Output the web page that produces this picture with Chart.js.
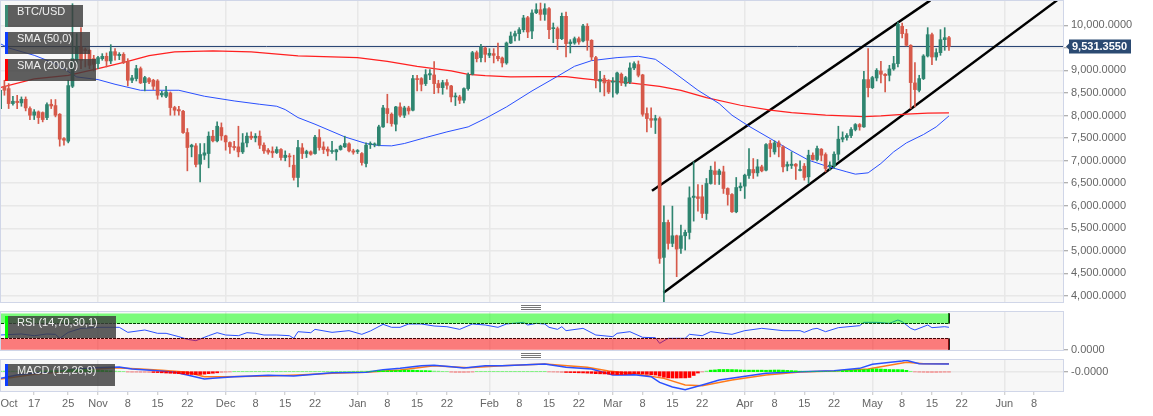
<!DOCTYPE html>
<html>
<head>
<meta charset="utf-8">
<title>BTC/USD</title>
<script src="https://cdn.jsdelivr.net/npm/chart.js@4"></script>
<style>
    html, body { margin: 0; padding: 0; background: #fff; }
    #wrap { position: relative; width: 1153px; height: 416px; overflow: hidden; }
    #wrap canvas { position: absolute; left: 0; top: 0; }
    .tag {
        position: absolute; left: 5px; height: 22px; line-height: 22px;
        padding-left: 9px; box-sizing: border-box; z-index: 5;
        background: rgba(60, 60, 60, 0.82); color: #f0f0f0;
        font: 11px "Liberation Sans", Arial, sans-serif; border-left: 3px solid;
    }
    .splitter {
        position: absolute; left: 521px; width: 20px; height: 5px; z-index: 5;
        background: repeating-linear-gradient(#777 0 1px, transparent 1px 2px);
    }
</style>
</head>
<body>
<div id="wrap">
    <canvas id="priceChart" width="1153" height="416"></canvas>
    <canvas id="rsiChart" width="1153" height="416"></canvas>
    <canvas id="macdChart" width="1153" height="416"></canvas>
    <div class="tag" style="top:5px;width:78px;border-color:#3a8a74">BTC/USD</div>
    <div class="tag" style="top:32px;width:85px;border-color:#0b3cff">SMA (50,0)</div>
    <div class="tag" style="top:59px;width:91px;border-color:#ff0000">SMA (200,0)</div>
    <div class="tag" style="top:316px;width:111px;border-color:#00ff00">RSI (14,70,30,1)</div>
    <div class="tag" style="top:364px;width:110px;border-color:#0b3cff">MACD (12,26,9)</div>
    <div class="splitter" style="top:305px"></div>
    <div class="splitter" style="top:353px"></div>
</div>
<script>
// ==========================================
// DATA
// ==========================================
// Days are counted from 1 Nov 2019, one candle per day
const firstDay = -23;

const opens = [
    8155,8649,8597,8265,8317,8280,8361,8155,8007,8081,
    8066,7955,8250,8221,8029,7490,7431,8649,9239,9520,
    9461,9446,9261,9151,9261,9313,9210,9416,9328,9357,
    9188,8782,8819,9040,8730,8819,8782,8767,8457,8428,
    8501,8177,8132,8095,7623,7306,7328,6922,7121,7158,
    7542,7439,7734,7549,7402,7306,7306,7195,7394,7542,
    7505,7542,7343,7232,7210,7180,7247,7070,7099,6900,
    6627,7284,7158,7195,7158,7512,7306,7254,7202,7195,
    7247,7306,7372,7217,7202,7158,6937,7357,7350,7343,
    7749,8155,8029,7808,8191,8007,8169,8118,8819,8819,
    8708,8900,8900,8708,8619,8730,8656,8413,8413,8339,
    8597,8915,9394,9284,9498,9335,9372,9313,9276,9166,
    9608,9763,9815,9904,10169,9874,10280,10346,10243,10368,
    9926,9926,9704,10199,9594,9608,9704,9653,9977,9667,
    9284,8760,8819,8745,8738,8501,8915,8708,8745,9055,
    9129,8900,8044,7933,7896,7933,4856,5630,5166,5335,
    5055,5335,5409,6184,6199,6199,5830,6494,6774,6693,
    6752,6383,6250,5867,6398,6435,6671,6804,6730,6863,
    6789,7380,7195,7394,7306,6878,6893,6922,6782,6878,
    6642,7121,7025,7254,7136,6878,6885,7143,7476,7512,
    7557,7690,7800,7749,8797,8619,8833,8988,8915,8893,
    9033,9151,9977,9815,9557,8723,8560,8819,9320,9793,
    9298,9394,9682,9726
];
const closes = [
    8560,8560,8265,8317,8287,8361,8169,8007,8081,7955,
    7911,8243,8213,8007,7476,7453,8664,9261,9535,9225,
    9439,9114,9136,9284,9313,9210,9416,9335,9357,9188,
    8782,8833,9040,8723,8841,8745,8649,8450,8494,8523,
    8177,8118,8103,7623,7291,7343,6915,7136,7173,7542,
    7439,7763,7549,7416,7306,7291,7195,7394,7542,7505,
    7542,7343,7217,7188,7173,7247,7070,7121,7084,6627,
    7291,7158,7202,7143,7520,7291,7247,7210,7217,7239,
    7321,7380,7217,7188,7217,6959,7343,7380,7372,7749,
    8169,8044,7822,8191,8007,8169,8103,8819,8797,8693,
    8907,8929,8708,8619,8730,8671,8413,8428,8339,8597,
    8907,9394,9261,9520,9357,9380,9335,9261,9166,9608,
    9763,9815,9904,10162,9852,10273,10346,10243,10368,9904,
    9940,9704,10199,9594,9630,9704,9630,9985,9667,9298,
    8782,8804,8723,8523,8760,8944,8723,8841,9055,9151,
    8893,8029,7933,7896,7933,4833,5630,5166,5335,5040,
    5335,5409,6177,6214,6162,5830,6494,6789,6693,6774,
    6383,6250,5867,6405,6435,6678,6804,6730,6863,6774,
    7357,7269,7394,7306,6863,6915,6922,6878,6804,6627,
    7121,7025,7269,7121,6826,6900,7143,7476,7512,7557,
    7690,7800,7749,8797,8619,8841,9003,8915,8885,9033,
    9151,10022,9815,9557,8730,8575,8819,9320,9793,9298,
    9394,9682,9726,9531.355
];
const highs = [
    8597,8782,8708,8428,8450,8413,8413,8191,8132,8103,
    8081,8280,8354,8354,8044,7512,8782,10479,9815,9948,
    9498,9461,9335,9313,9372,9387,9571,9483,9394,9394,
    9261,8893,9114,9077,8870,8841,8804,8797,8538,8649,
    8523,8206,8206,8118,7712,7365,7380,7380,7380,7638,
    7675,7859,7837,7564,7416,7431,7763,7601,7616,7638,
    7601,7660,7394,7269,7306,7306,7269,7217,7158,7121,
    7453,7380,7232,7217,7564,7690,7416,7306,7431,7254,
    7343,7542,7394,7254,7247,7180,7394,7416,7394,7786,
    8228,8472,8059,8206,8280,8206,8206,8893,8893,8841,
    9018,9018,9195,8782,8782,8797,8671,8501,8450,8612,
    8944,9424,9431,9579,9520,9483,9483,9608,9298,9630,
    9852,9874,9948,10221,10199,10346,10479,10494,10479,10391,
    10051,9963,10273,10295,9682,9741,9741,10022,10036,9682,
    9313,8981,8893,8797,8841,8966,8944,8870,9166,9188,
    9210,8915,8169,8169,8007,7970,6000,5682,5992,5350,
    5571,5461,6420,6974,6472,6457,6605,6878,6974,6811,
    6878,6398,6273,6627,6509,6701,7269,7047,7025,6900,
    7380,7453,7439,7439,7328,6974,7195,6937,6996,6937,
    7232,7173,7321,7269,7173,6974,7195,7763,7638,7601,
    7734,7822,7822,8981,9483,8870,9040,9202,8929,9114,
    9313,10073,10051,9911,9571,9173,8893,9350,9948,9830,
    9483,9904,9948,9756
];
const lows = [
    8132,8450,8155,8228,8155,8206,8103,7911,7911,7822,
    7859,7911,8155,7970,7321,7343,7394,8619,9099,9040,
    9077,9040,8988,9040,9225,9077,9151,9225,9239,9151,
    8656,8730,8767,8708,8546,8708,8575,8361,8413,8398,
    8007,8007,8007,7601,6774,7084,6863,6531,7025,6841,
    7416,7416,7453,7232,7158,7232,7084,7158,7306,7468,
    7416,7269,7158,7143,7070,7158,7011,6996,6863,6568,
    6420,7047,7070,7121,7143,7232,7158,7106,7158,7011,
    7232,7291,7195,7143,7158,6900,6863,7269,7306,7328,
    7734,7837,7763,7660,7970,7955,8029,8103,8546,8546,
    8664,8797,8487,8501,8472,8583,8302,8221,8265,8280,
    8560,8900,9188,9188,9188,9284,9166,9210,9077,9136,
    9594,9653,9667,9852,9726,9704,10258,10110,10110,9704,
    9616,9461,9682,9298,9387,9579,9579,9630,9446,9225,
    8612,8523,8435,8487,8405,8472,8664,8649,8708,9018,
    8856,7985,7638,7734,7601,4723,3874,5040,5092,4428,
    4944,5018,5262,5660,5881,5734,5697,6479,6472,6472,
    6273,6014,5852,5845,6332,6162,6605,6605,6656,6752,
    6774,7084,7143,7084,6752,6774,6826,6583,6774,6568,
    6494,7011,6996,6996,6752,6789,6826,7011,7416,7453,
    7512,7660,7675,7734,8413,8597,8767,8723,8524,8767,
    9003,9077,9719,9542,8155,8191,8524,8797,9298,9129,
    9225,9335,9446,9446
];

const lastPrice = 9531.355;

const sma50Days = [-23,-21,-15,-10,-5,0,4,10,14,19,25,32,38,42,44,47,51,58,63,66,69,72,77,82,87,91,96,102,108,112,116,122,127,131,135,141,146,149,153,158,163,167,171,176,178,181,184,187,190,194,197,200];
const sma50Values = [9594,9498,9335,9151,8856,8797,8693,8560,8560,8560,8428,8324,8250,8206,8132,7955,7808,7527,7380,7335,7328,7380,7512,7638,7749,7933,8191,8546,8870,9092,9217,9284,9313,9247,8981,8560,8265,8007,7763,7490,7217,7011,6885,6752,6701,6730,6937,7195,7394,7579,7749,7992];

const sma200Days = [-23,-15,-7,0,7,12,18,27,36,47,61,68,75,79,83,87,91,97,104,110,114,118,122,128,132,137,143,151,158,163,171,180,184,190,195,200];
const sma200Values = [8619,8811,8893,9040,9202,9328,9409,9431,9409,9321,9284,9202,9092,9040,8988,8915,8885,8856,8863,8863,8819,8782,8760,8693,8649,8560,8398,8228,8118,8066,8007,7977,7992,8029,8051,8059];

const channelUpperDays = [130.2, 195.6];
const channelUpperPrices = [6332, 10553];
const channelLowerDays = [132.9, 225.4];
const channelLowerPrices = [4073, 10553];

const rsiDays = [-23,-18,-15,-12,-10,-9,-7,-4,0,5,7,11,14,16,19,21,23,26,28,30,33,35,37,39,42,45,46,47,50,51,55,59,62,64,67,69,71,73,76,79,82,85,88,91,94,96,100,101,103,105,106,108,109,110,114,117,121,122,125,128,131,132,134,138,139,142,144,149,152,156,161,165,166,168,169,171,174,179,180,183,186,188,189,191,192,195,196,199,200];
const rsiValues = [39.3,42,37.5,42,41,30.4,46.4,57,59.8,59.8,46.4,52.7,43.8,43.8,34.9,27.8,24.2,37.5,45.5,39.3,37.5,45.5,43.8,39.3,39.3,37.5,30.4,48.2,45.5,54.4,46.4,50.9,41.1,50,67.8,59.8,59.8,68.7,68.7,63.3,61.5,54.4,68.7,66,59.8,68.7,73.1,66,70.4,68.7,59.8,54.4,61.5,50.9,57.1,39.3,34.9,43.8,48.2,33.1,32.2,17.1,30.4,30.4,41.1,37.5,48.2,41.1,50.9,57.1,50.9,50.9,46.4,55.3,57.1,48.2,58.9,64.2,73.1,73.1,70.4,79.3,74.9,57.1,52.7,66,58.9,61.5,59.8];
const rsiTicks = [0];
const rsiUpper = 70;
const rsiLower = 30;
const rsiBandTop = 97;

const macdDays = [-23,-19,-15,-11,-7,-4,0,5,8,14,18,21,25,27,32,40,46,51,55,63,67,71,76,79,83,86,91,95,105,110,116,121,126,130,132,135,138,142,146,157,165,173,179,182,189,190,193,200];
const macdValues = [-300,-150,-75,0,75,135,180,210,120,45,-30,-150,-330,-300,-225,-165,-195,-120,-45,-30,90,150,270,285,225,165,270,270,345,195,120,-150,-135,-225,-480,-690,-810,-600,-375,-75,0,45,150,330,480,510,360,345];
const signalDays = [-23,-19,-15,-11,-7,0,4,10,15,21,25,30,40,47,55,63,71,79,87,95,105,115,120,127,133,138,142,149,157,165,173,181,190,194,200];
const signalValues = [-330,-225,-120,-45,30,120,180,120,60,-30,-225,-225,-195,-150,-75,-30,75,270,180,270,345,195,30,-120,-300,-600,-630,-375,-150,-15,30,120,420,360,360];
const histValues = [
    30,30,30,30,30,30,30,30,30,30,
    40,40,40,45,50,60,
    90,100,110,110,110,100,90,
    70,60,50,40,30,20,10,
    -15,-20,-20,-25,-25,-30,-35,-40,-50,-60,-70,-80,-90,-100,-120,-125,-130,-125,-110,-90,-70,-50,-30,-20,-10,
    15,15,15,15,15,15,15,15,15,15,15,15,15,15,15,15,15,15,15,15,15,15,15,15,15,15,15,15,
    20,20,25,25,30,30,35,40,40,45,50,
    60,70,70,70,60,50,50,40,30,25,
    15,10,
    -20,-30,-30,-30,-25,-15,
    15,15,15,15,15,15,15,15,15,15,15,15,15,15,15,15,15,
    -10,-15,-20,-30,-35,-40,-45,-50,-55,-65,-75,-90,-95,-100,-110,
    -120,-130,-125,-120,-105,-90,-90,-100,-120,-135,-150,
    -200,-250,-280,-285,-285,-280,-280,-260,-170,-60,-10,30,
    70,80,100,100,100,95,90,80,70,70,70,70,70,65,70,75,75,70,60,50,40,
    30,20,15,15,15,15,15,15,20,
    30,40,50,60,70,80,90,100,
    120,130,120,110,100,95,95,90,60,
    20,-10,-20,-25,-30,-30,-30,-25,-20,-20
];
const macdTicks = [-0.00001];

const priceTicks = [4000,4500,5000,5500,6000,6500,7000,7500,8000,8500,9000,9500,10000];
const xTickDays = [-20.9,-15,-7,0,7,14,21,30,37,44,51,61,68,75,82,92,99,106,113,121,128,135,142,152,159,166,173,182,189,196,203,213,220];
const xTickLabels = ['Oct','17','25','Nov','8','15','22','Dec','8','15','22','Jan','8','15','22','Feb','8','15','22','Mar','8','15','22','Apr','8','15','22','May','8','15','22','Jun','8'];

// ==========================================
// SHARED SETTINGS
// ==========================================
const COLORS = {
    up: '#2f8570',
    down: '#d6594a',
    grid: '#e8e8e8',
    frame: '#d0d6e8',
    panel: '#f7f7f7',
    priceLine: '#1f3d6e',
    priceTag: '#2b4a72',
    text: '#666666'
};

Chart.defaults.font.family = '"Liberation Sans", Arial, sans-serif';
Chart.defaults.font.size = 11;
Chart.defaults.color = COLORS.text;

const xMin = -22.8;
const xMax = 226.8;
const days = opens.map((_, i) => firstDay + i);
const lastDay = days[days.length - 1];

function zipPoints(xs, ys) {
    return xs.map((x, i) => ({ x: x, y: ys[i] }));
}

function lineSet(xs, ys, color, width) {
    return {
        type: 'line',
        data: zipPoints(xs, ys),
        borderColor: color,
        borderWidth: width,
        pointRadius: 0,
        tension: 0,
        fill: false
    };
}

// Panel background under the grid and thin frame on top of it
const panelPlugin = {
    id: 'panel',
    beforeDraw(chart) {
        const a = chart.chartArea;
        chart.ctx.save();
        chart.ctx.fillStyle = COLORS.panel;
        chart.ctx.fillRect(a.left, a.top, a.width, a.height);
        chart.ctx.restore();
    },
    afterDraw(chart) {
        const a = chart.chartArea;
        chart.ctx.save();
        chart.ctx.strokeStyle = COLORS.frame;
        chart.ctx.lineWidth = 1;
        chart.ctx.strokeRect(a.left - 0.5, a.top - 0.5, a.width + 1, a.height + 1);
        chart.ctx.restore();
    }
};

// Dark label with the last price next to the axis
const priceTagPlugin = {
    id: 'priceTag',
    afterDraw(chart) {
        const ctx = chart.ctx;
        const y = chart.scales.y.getPixelForValue(lastPrice);
        const left = chart.chartArea.right + 5;
        ctx.save();
        ctx.fillStyle = COLORS.priceTag;
        ctx.beginPath();
        ctx.moveTo(left - 2, y);
        ctx.lineTo(left + 1, y - 3);
        ctx.lineTo(left + 1, y - 7);
        ctx.lineTo(left + 63, y - 7);
        ctx.lineTo(left + 63, y + 7);
        ctx.lineTo(left + 1, y + 7);
        ctx.lineTo(left + 1, y + 3);
        ctx.closePath();
        ctx.fill();
        ctx.fillStyle = '#ffffff';
        ctx.font = 'bold 11px "Liberation Sans", Arial, sans-serif';
        ctx.textBaseline = 'middle';
        ctx.fillText(lastPrice.toLocaleString('en-US', { minimumFractionDigits: 4 }), left + 4, y + 0.5);
        ctx.restore();
    }
};

function isMonthTick(index) {
    return index > 0 && isNaN(Number(xTickLabels[index]));
}

function clearScalePadding(axis) {
    axis.paddingTop = 0;
    axis.paddingBottom = 0;
    axis.paddingLeft = 0;
    axis.paddingRight = 0;
}

function buildXScale(showLabels) {
    return {
        type: 'linear',
        offset: false,
        min: xMin,
        max: xMax,
        afterBuildTicks: axis => { axis.ticks = xTickDays.map(v => ({ value: v })); },
        afterFit: axis => {
            axis.height = showLabels ? 25 : 0;
            clearScalePadding(axis);
        },
        border: { display: false },
        grid: {
            offset: false,
            drawTicks: showLabels,
            tickLength: 4,
            lineWidth: 1.5,
            color: ctx => isMonthTick(ctx.index) ? COLORS.grid : 'transparent',
            tickColor: ctx => ctx.index === 0 ? 'transparent' : '#c4c4c4',
            tickWidth: 1
        },
        ticks: {
            display: showLabels,
            autoSkip: false,
            maxRotation: 0,
            padding: 2,
            callback: (value, index) => xTickLabels[index]
        }
    };
}

function buildYScale(min, max, tickValues, gridColor) {
    return {
        position: 'right',
        min: min,
        max: max,
        afterBuildTicks: axis => { axis.ticks = tickValues.map(v => ({ value: v })); },
        afterFit: axis => {
            axis.width = 90;
            clearScalePadding(axis);
        },
        border: { display: false },
        grid: {
            color: gridColor,
            lineWidth: 1.5,
            tickColor: '#999999',
            tickWidth: 1,
            tickLength: 5
        },
        ticks: {
            autoSkip: false,
            padding: 3,
            callback: value => {
                if (value === 0 || value < 0) return value.toFixed(4);
                return value.toLocaleString('en-US', { minimumFractionDigits: 4 });
            }
        }
    };
}

function buildOptions(padding, showLabels, yScale) {
    return {
        responsive: false,
        devicePixelRatio: 1,
        animation: false,
        events: [],
        layout: {
            autoPadding: false,
            padding: { left: 1, right: 0, top: padding.top, bottom: padding.bottom }
        },
        scales: { x: buildXScale(showLabels), y: yScale },
        plugins: {
            legend: { display: false },
            tooltip: { enabled: false }
        }
    };
}

// ==========================================
// PRICE PANEL
// ==========================================
function initializePriceChart() {
    const candleColors = opens.map((open, i) => closes[i] >= open ? COLORS.up : COLORS.down);
    const wickSet = {
        type: 'bar',
        data: days.map((d, i) => ({ x: d, y: [lows[i], highs[i]] })),
        backgroundColor: candleColors,
        barThickness: 1,
        grouped: false
    };
    const bodySet = {
        type: 'bar',
        data: days.map((d, i) => ({ x: d, y: [opens[i], closes[i]] })),
        backgroundColor: candleColors,
        barThickness: 3,
        minBarLength: 1,
        grouped: false
    };

    new Chart(document.getElementById('priceChart'), {
        type: 'bar',
        data: {
            datasets: [
                wickSet,
                bodySet,
                lineSet(sma50Days, sma50Values, '#2a50ff', 1),
                lineSet(sma200Days, sma200Values, '#ff2020', 1.25),
                lineSet(channelUpperDays, channelUpperPrices, '#000000', 2.5),
                lineSet(channelLowerDays, channelLowerPrices, '#000000', 2.5),
                lineSet([xMin, xMax], [lastPrice, lastPrice], COLORS.priceLine, 1)
            ]
        },
        options: buildOptions({ top: 1, bottom: 114 }, false, buildYScale(3867, 10539, priceTicks, COLORS.grid)),
        plugins: [panelPlugin, priceTagPlugin]
    });
}

// ==========================================
// RSI PANEL
// ==========================================
function bandSet(top, bottom, color) {
    const band = lineSet([xMin, lastDay], [top, top], 'transparent', 0);
    band.fill = { value: bottom };
    band.backgroundColor = color;
    return band;
}

function initializeRsiChart() {
    const dashed = level => {
        const line = lineSet([xMin, lastDay], [level, level], '#000000', 1);
        line.borderDash = [3, 1];
        return line;
    };

    new Chart(document.getElementById('rsiChart'), {
        type: 'line',
        data: {
            datasets: [
                bandSet(rsiBandTop, rsiUpper, 'rgba(0, 255, 0, 0.5)'),
                bandSet(rsiLower, 0, 'rgba(255, 0, 0, 0.5)'),
                dashed(rsiUpper),
                dashed(rsiLower),
                lineSet([lastDay, lastDay], [rsiBandTop, rsiUpper], '#000000', 1),
                lineSet([lastDay, lastDay], [rsiLower, 0], '#000000', 1),
                lineSet(rsiDays, rsiValues, '#2a50ff', 1)
            ]
        },
        options: buildOptions({ top: 312, bottom: 66 }, false, buildYScale(-0.67, 100.67, rsiTicks, 'transparent')),
        plugins: [panelPlugin]
    });
}

// ==========================================
// MACD PANEL
// ==========================================
function histColor(value) {
    const alpha = Math.abs(value) < 35 ? 0.45 : 1;
    return value >= 0 ? `rgba(0, 255, 0, ${alpha})` : `rgba(255, 0, 0, ${alpha})`;
}

function initializeMacdChart() {
    const histSet = {
        type: 'bar',
        data: zipPoints(days, histValues),
        backgroundColor: histValues.map(histColor),
        barThickness: 3,
        grouped: false
    };

    new Chart(document.getElementById('macdChart'), {
        type: 'bar',
        data: {
            datasets: [
                histSet,
                lineSet(macdDays, macdValues, '#2a50ff', 1.5),
                lineSet(signalDays, signalValues, '#ff7a1a', 1.5)
            ]
        },
        options: buildOptions({ top: 360, bottom: 0 }, true, buildYScale(-868, 526, macdTicks, COLORS.grid)),
        plugins: [panelPlugin]
    });
}

initializePriceChart();
initializeRsiChart();
initializeMacdChart();
</script>
</body>
</html>
